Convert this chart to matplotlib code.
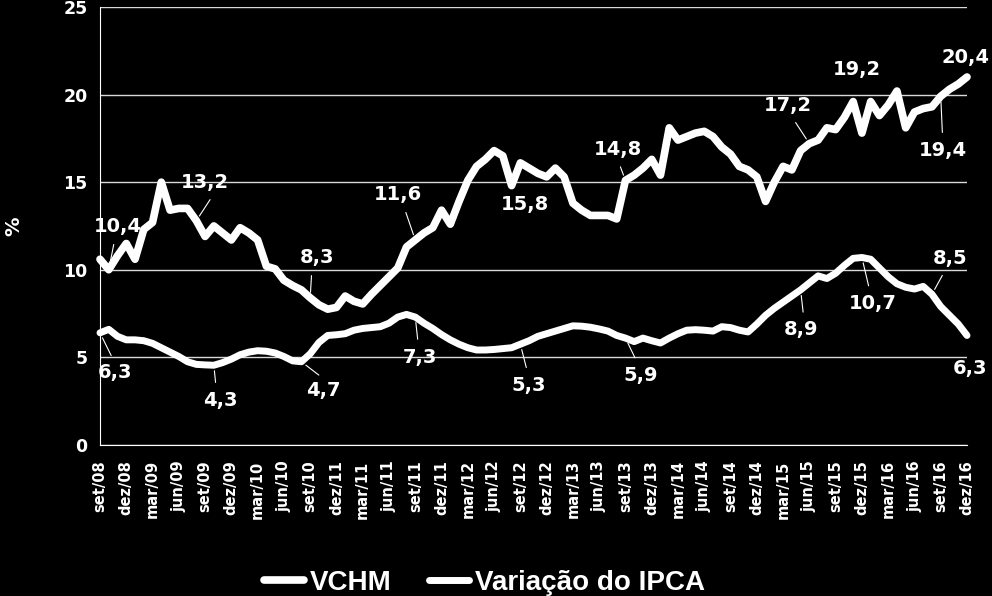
import numpy as np
import matplotlib.pyplot as plt

# Rótulos do eixo x (trimestrais), como no original
meses = ['set/08', 'dez/08', 'mar/09', 'jun/09', 'set/09', 'dez/09', 'mar/10', 'jun/10',
         'set/10', 'dez/11', 'mar/11', 'jun/11', 'set/11', 'dez/11', 'mar/12', 'jun/12',
         'set/12', 'dez/12', 'mar/13', 'jun/13', 'set/13', 'dez/13', 'mar/14', 'jun/14',
         'set/14', 'dez/14', 'mar/15', 'jun/15', 'set/15', 'dez/15', 'mar/16', 'jun/16',
         'set/16', 'dez/16']

# Séries mensais set/08 .. dez/16 (%)
vchm = [10.6, 10.0, 10.8, 11.5, 10.6, 12.3, 12.7, 15.0, 13.4, 13.5,
        13.5, 12.8, 11.9, 12.5, 12.1, 11.7, 12.4, 12.1, 11.7, 10.2,
        10.05, 9.4, 9.1, 8.85, 8.4, 8.0, 7.75, 7.85, 8.5, 8.2,
        8.05, 8.6, 9.1, 9.6, 10.1, 11.3, 11.7, 12.1, 12.4, 13.4,
        12.6, 13.9, 15.1, 15.9, 16.3, 16.8, 16.5, 14.8, 16.1, 15.8,
        15.5, 15.3, 15.8, 15.3, 13.8, 13.4, 13.1, 13.1, 13.1, 12.9,
        15.1, 15.4, 15.8, 16.3, 15.4, 18.1, 17.4, 17.6, 17.8, 17.9,
        17.6, 17.0, 16.6, 15.9, 15.7, 15.3, 13.9, 15.0, 15.9, 15.7,
        16.8, 17.2, 17.4, 18.1, 18.0, 18.7, 19.6, 17.8, 19.6, 18.8,
        19.4, 20.2, 18.1, 19.0, 19.2, 19.3, 19.9, 20.3, 20.6, 21.0]

ipca = [6.4, 6.6, 6.2, 6.0, 6.0, 5.95, 5.8, 5.55, 5.3, 5.05,
        4.75, 4.6, 4.57, 4.55, 4.7, 4.9, 5.15, 5.3, 5.38, 5.35,
        5.25, 5.05, 4.8, 4.75, 5.2, 5.85, 6.25, 6.29, 6.35, 6.55,
        6.65, 6.7, 6.75, 6.95, 7.3, 7.45, 7.3, 6.95, 6.65, 6.3,
        6.0, 5.75, 5.55, 5.42, 5.42, 5.45, 5.5, 5.55, 5.75, 5.95,
        6.2, 6.35, 6.5, 6.65, 6.8, 6.78, 6.72, 6.62, 6.5, 6.25,
        6.1, 5.9, 6.1, 5.95, 5.82, 6.1, 6.35, 6.55, 6.58, 6.55,
        6.5, 6.75, 6.7, 6.55, 6.45, 6.9, 7.4, 7.8, 8.15, 8.5,
        8.85, 9.25, 9.65, 9.5, 9.8, 10.25, 10.65, 10.7, 10.6, 10.1,
        9.6, 9.2, 9.0, 8.9, 9.05, 8.6, 7.9, 7.4, 6.9, 6.25]

# Rótulos de dados: texto e mês de referência
rot_vchm = [('10,4', 1), ('13,2', 11), ('8,3', 24), ('11,6', 36), ('15,8', 47),
            ('14,8', 60), ('17,2', 81), ('19,2', 86), ('20,4', 99), ('19,4', 96)]
rot_ipca = [('6,3', 0), ('4,3', 13), ('4,7', 23), ('7,3', 36), ('5,3', 48),
            ('5,9', 60), ('8,9', 80), ('10,7', 87), ('8,5', 95), ('6,3', 99)]

# deslocamento do texto (px) e ponto de saída da linha guia no texto
pos_vchm = [((9, 43), (0.45, 0)), ((9, 38), (0.7, 0)), ((7, 40), (0.35, 0)),
            ((-17, 45), (0.6, 0)), ((13, -19), None), ((-8, 31), (0.5, 0)),
            ((-21, 38), (0.55, 0)), ((4, 32), None), ((-2, 20), (0.55, 0)),
            ((2, -54), (0.5, 1))]
pos_ipca = [((15, -40), (0.5, 1)), ((6, -35), (0.4, 1)), ((22, -29), (0.6, 1)),
            ((5, -40), (0.45, 1)), ((8, -41), (0.5, 1)), ((15, -37), (0.45, 1)),
            ((0, -40), (0.6, 1)), ((11, -46), (0.45, 1)), ((18, 36), (0.4, 0)),
            ((3, -33), None)]

fig = plt.figure(figsize=(9.92, 5.96), dpi=100, facecolor='black')
ax = fig.add_axes([0.1008, 0.2534, 0.874, 0.735])
ax.set_facecolor('black')

x = np.arange(len(vchm))
l1, = ax.plot(x, vchm, color='white', lw=5.5, solid_joinstyle='round',
              solid_capstyle='round', clip_on=False, label='VCHM', zorder=3)
l2, = ax.plot(x, ipca, color='white', lw=5, solid_joinstyle='round',
              solid_capstyle='round', clip_on=False, label='Variação do IPCA', zorder=3)

ax.set_xlim(0, len(vchm) - 1)
ax.set_ylim(0, 25)
ax.set_yticks(range(0, 26, 5))
ax.set_yticklabels([str(v) for v in range(0, 26, 5)], fontsize=12.5, fontweight='bold')
ax.set_xticks(np.arange(0, len(vchm), 3))
ax.set_xticklabels(meses, rotation=90, fontsize=10.5, fontweight='bold')
ax.tick_params(axis='both', length=0, colors='white')
ax.tick_params(axis='x', pad=11)
ax.tick_params(axis='y', pad=9)

ax.grid(axis='y', color='#d9d9d9', lw=1)
ax.set_axisbelow(True)
for s in ['top', 'right']:
    ax.spines[s].set_visible(False)
ax.spines['left'].set_color('white')
ax.spines['bottom'].set_color('white')

ax.set_ylabel('%', color='white', fontsize=14, fontweight='bold')
ax.yaxis.set_label_coords(-0.088, 0.5)

for serie, rots, pos in [(vchm, rot_vchm, pos_vchm), (ipca, rot_ipca, pos_ipca)]:
    for (txt, i), (off, rp) in zip(rots, pos):
        props = None
        if rp is not None:
            props = dict(arrowstyle='-', color='white', lw=0.8,
                         shrinkA=4, shrinkB=4, relpos=rp)
        ax.annotate(txt, xy=(i, serie[i]), xytext=off, textcoords='offset pixels',
                    ha='center', va='center', color='white', fontsize=14,
                    fontweight='bold', arrowprops=props, annotation_clip=False,
                    zorder=4)

fig.legend(handles=[l1, l2], loc='lower center', bbox_to_anchor=(0.488, -0.042),
           ncol=2, frameon=False, labelcolor='white', handlelength=1.45,
           handletextpad=0.2, columnspacing=1.35,
           prop={'family': ['Liberation Sans', 'DejaVu Sans'],
                 'weight': 'bold', 'size': 20})

fig.savefig('out.png', dpi=100, facecolor='black')
